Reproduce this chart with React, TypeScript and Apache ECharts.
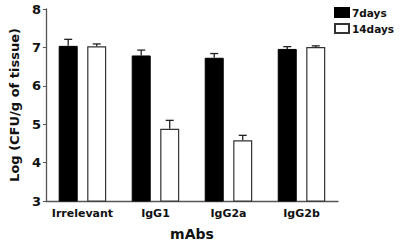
import React, { useEffect, useRef } from "react";
import * as echarts from "echarts";

const categories = ["Irrelevant", "IgG1", "IgG2a", "IgG2b"];
const days7 = [7.04, 6.79, 6.73, 6.96];
const days7Err = [0.17, 0.14, 0.11, 0.06];
const days14 = [7.03, 4.88, 4.58, 7.01];
const days14Err = [0.06, 0.22, 0.13, 0.03];
const seriesNames = ["7days", "14days"];
const yTicks = { min: 3, max: 8, interval: 1 };

const FONT = "DejaVu Sans";

export default function App() {
  const ref = useRef<HTMLDivElement>(null);
  useEffect(() => {
    if (!ref.current) return;
    const chart = echarts.init(ref.current, undefined, { renderer: "svg" });
    const errData = (vals: number[], errs: number[]) =>
      vals.map((v, i) => [i, v, v + errs[i]]);
    const makeErr = (name: string, vals: number[], errs: number[], offset: number) => ({
      type: "custom",
      name: name + "-err",
      z: 5,
      silent: true,
      data: errData(vals, errs),
      encode: { x: 0, y: [1, 2] },
      renderItem: (params: any, api: any) => {
        const i = api.value(0);
        const lo = api.coord([i, api.value(1)]);
        const hi = api.coord([i, api.value(2)]);
        const x = lo[0] + offset;
        const style = { stroke: "#222", lineWidth: 1.3 };
        return {
          type: "group",
          children: [
            { type: "line", shape: { x1: x, y1: lo[1], x2: x, y2: hi[1] }, style },
            { type: "line", shape: { x1: x - 4, y1: hi[1], x2: x + 4, y2: hi[1] }, style },
          ],
        };
      },
    });
    chart.setOption({
      animation: false,
      grid: { left: 34, right: 62, top: 9, bottom: 36.5, containLabel: false },
      legend: {
        orient: "vertical",
        left: 334,
        top: 7,
        padding: 0,
        itemWidth: 14,
        itemHeight: 9,
        itemGap: 5,
        textStyle: { fontFamily: FONT, fontWeight: "bold", fontSize: 10.5, color: "#111", padding: [0, 0, 0, -2] },
        data: [
          { name: seriesNames[0], icon: "rect" },
          { name: seriesNames[1], icon: "rect" },
        ],
      },
      xAxis: {
        type: "category",
        data: categories,
        name: "mAbs",
        nameLocation: "middle",
        nameGap: 26,
        nameTextStyle: { fontFamily: FONT, fontWeight: "bold", fontSize: 14, color: "#111" },
        axisLine: { lineStyle: { color: "#555", width: 1.3 } },
        axisTick: { alignWithLabel: true, length: 3, lineStyle: { color: "#555" } },
        axisLabel: { interval: 0, fontFamily: FONT, fontWeight: "bold", fontSize: 11, color: "#111", margin: 7 },
      },
      yAxis: {
        type: "value",
        min: yTicks.min,
        max: yTicks.max,
        interval: yTicks.interval,
        name: "Log (CFU/g of tissue)",
        nameLocation: "middle",
        nameGap: 21,
        nameTextStyle: { fontFamily: FONT, fontWeight: "bold", fontSize: 13, color: "#111" },
        axisLine: { show: true, lineStyle: { color: "#555", width: 1.3 } },
        axisTick: { show: true, length: 3, lineStyle: { color: "#555" } },
        splitLine: { show: false },
        axisLabel: { fontFamily: FONT, fontWeight: "bold", fontSize: 13, color: "#111", margin: 5 },
      },
      series: [
        {
          type: "bar",
          name: seriesNames[0],
          data: days7,
          barWidth: 19,
          barGap: "50%",
          itemStyle: { color: "#000", borderColor: "#000", borderWidth: 1 },
        },
        {
          type: "bar",
          name: seriesNames[1],
          data: days14,
          barWidth: 19,
          barGap: "50%",
          itemStyle: { color: "#fff", borderColor: "#333", borderWidth: 1.2 },
        },
        makeErr(seriesNames[0], days7, days7Err, -14.25),
        makeErr(seriesNames[1], days14, days14Err, 14.25),
      ],
    });
    return () => chart.dispose();
  }, []);
  return <div ref={ref} style={{ width: 400, height: 246, position: "absolute", left: 0, top: 0, background: "#fff" }} />;
}
